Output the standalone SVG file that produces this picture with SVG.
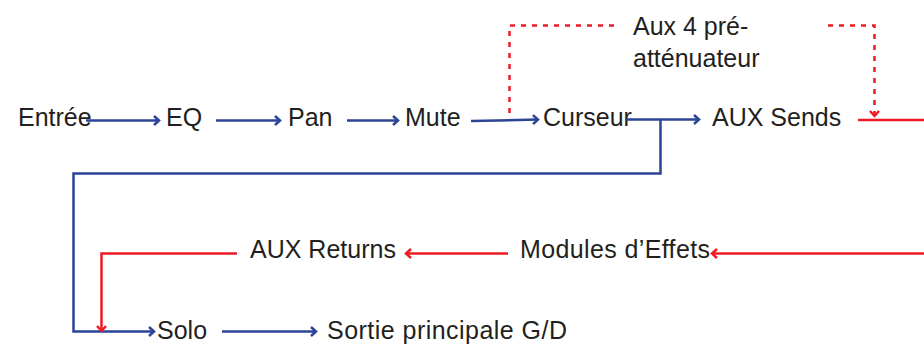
<svg xmlns="http://www.w3.org/2000/svg" width="924" height="344" viewBox="0 0 924 344">
<style>
text{font-family:"Liberation Sans",Arial,sans-serif;font-size:25px;fill:#231f20}
.b{fill:none;stroke:#2b4496;stroke-width:2.5}
.r{fill:none;stroke:#ed1c24;stroke-width:2.5}
.d{fill:none;stroke:#ed1c24;stroke-width:2.5;stroke-dasharray:5 6}
</style>
<defs>
<marker id="ab" markerWidth="10" markerHeight="12" refX="7" refY="6" orient="auto" markerUnits="userSpaceOnUse">
<path d="M2,1.5 L7,6 L2,10.5" fill="none" stroke="#2b4496" stroke-width="2.5"/>
</marker>
<marker id="ar" markerWidth="10" markerHeight="12" refX="7" refY="6" orient="auto" markerUnits="userSpaceOnUse">
<path d="M2,1.5 L7,6 L2,10.5" fill="none" stroke="#ed1c24" stroke-width="2.5"/>
</marker>
</defs>
<g id="n-entree"><text x="18" y="126">Entrée</text></g>
<g id="n-eq"><text x="166" y="126">EQ</text></g>
<g id="n-pan"><text x="288" y="126">Pan</text></g>
<g id="n-mute"><text x="405" y="126">Mute</text></g>
<g id="n-curseur"><text x="543" y="126">Curseur</text></g>
<g id="n-auxsends"><text x="712" y="126">AUX Sends</text></g>
<g id="n-aux4"><text x="633" y="35">Aux 4 pré-</text><text x="633" y="67">atténuateur</text></g>
<g id="n-effets"><text x="520" y="258" textLength="190" lengthAdjust="spacing">Modules d’Effets</text></g>
<g id="n-auxreturns"><text x="250" y="258">AUX Returns</text></g>
<g id="n-solo"><text x="157" y="339">Solo</text></g>
<g id="n-sortie"><text x="327" y="339" textLength="240" lengthAdjust="spacing">Sortie principale G/D</text></g>
<g id="connectors">
<line class="b" x1="86" y1="120.5" x2="159" y2="120.5" marker-end="url(#ab)"/>
<line class="b" x1="216" y1="120.5" x2="280" y2="120.5" marker-end="url(#ab)"/>
<line class="b" x1="347" y1="120.5" x2="398" y2="120.5" marker-end="url(#ab)"/>
<line class="b" x1="471" y1="121" x2="538" y2="119.5" marker-end="url(#ab)"/>
<line class="b" x1="625" y1="119.5" x2="699" y2="119.5" marker-end="url(#ab)"/>
<polyline class="b" points="660.5,119.5 660.5,173.5 73.5,173.5 73.5,331.5 154,331.5" marker-end="url(#ab)"/>
<line class="b" x1="222" y1="331.5" x2="316" y2="331.5" marker-end="url(#ab)"/>
<polyline class="d" points="509.5,113 509.5,25.5 618,25.5"/>
<polyline class="d" points="828,25.5 874.5,25.5 874.5,116" marker-end="url(#ar)"/>
<line class="r" x1="858" y1="120" x2="924" y2="120"/>
<line class="r" x1="924" y1="253.5" x2="712" y2="253.5" marker-end="url(#ar)"/>
<line class="r" x1="508" y1="253.5" x2="406" y2="253.5" marker-end="url(#ar)"/>
<polyline class="r" points="237,253.5 101.5,253.5 101.5,331" marker-end="url(#ar)"/>
</g>
</svg>
